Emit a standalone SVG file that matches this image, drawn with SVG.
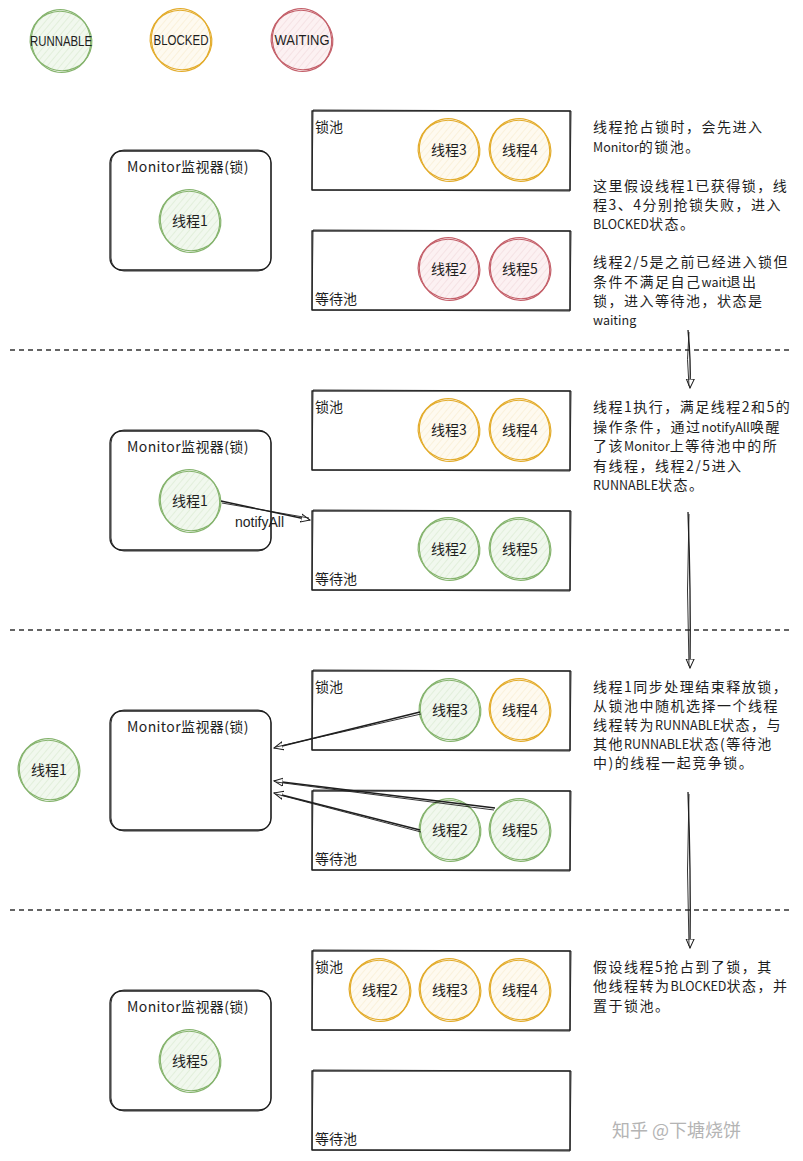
<svg xmlns="http://www.w3.org/2000/svg" width="803" height="1161" viewBox="0 0 803 1161">
<defs>
<pattern id="hG" patternUnits="userSpaceOnUse" width="5" height="5" patternTransform="rotate(40)"><rect width="5" height="5" fill="#f1f8ee"/><line x1="0" y1="0" x2="0" y2="5" stroke="#d3e6c9" stroke-width="1"/></pattern>
<pattern id="hY" patternUnits="userSpaceOnUse" width="5" height="5" patternTransform="rotate(40)"><rect width="5" height="5" fill="#fefaf0"/><line x1="0" y1="0" x2="0" y2="5" stroke="#f6e8c6" stroke-width="1"/></pattern>
<pattern id="hR" patternUnits="userSpaceOnUse" width="5" height="5" patternTransform="rotate(40)"><rect width="5" height="5" fill="#fcf1f2"/><line x1="0" y1="0" x2="0" y2="5" stroke="#efd3d6" stroke-width="1"/></pattern>
<marker id="ah" viewBox="0 0 10 10" refX="9" refY="5" markerWidth="10" markerHeight="10" markerUnits="userSpaceOnUse" orient="auto"><path d="M0,1 L9,5 L0,9 Z" fill="#fff" stroke="#1e1e1e" stroke-width="1"/></marker>
</defs>
<style>
.fg{fill:url(#hG);stroke:none}
.fy{fill:url(#hY);stroke:none}
.fr{fill:url(#hR);stroke:none}
.g{fill:none;stroke:#86b46e;stroke-width:1.2}
.y{fill:none;stroke:#e3ac2c;stroke-width:1.2}
.r{fill:none;stroke:#c4606a;stroke-width:1.2}
.c{font-family:"Noto Sans CJK SC",sans-serif;font-size:14px;text-anchor:middle;fill:#1e1e1e}
.lg{font-family:"Liberation Sans",sans-serif;font-size:15px;text-anchor:middle;fill:#1e1e1e}
.b{fill:#fff;stroke:#1e1e1e;stroke-width:1.3}
.b2{fill:none;stroke:#1e1e1e;stroke-width:0.9}
.lab{font-family:"Noto Sans CJK SC",sans-serif;font-size:14px;fill:#1e1e1e}
.mt{font-family:"Noto Sans CJK SC",sans-serif;font-size:14px;fill:#1e1e1e;letter-spacing:0.4px}
.d{font-family:"Noto Sans CJK SC",sans-serif;font-size:14px;fill:#1e1e1e;letter-spacing:1.5px}
.l{font-size:12.5px;letter-spacing:0}
.dash{stroke:#333;stroke-width:1.5;stroke-dasharray:5 4;fill:none}
.ar{fill:none;stroke:#1e1e1e;stroke-width:1.3}
.ar2{fill:none;stroke:#1e1e1e;stroke-width:0.9}
.na{font-family:"Liberation Sans",sans-serif;font-size:14px;fill:#1e1e1e}
.wm{font-family:"Noto Sans CJK SC",sans-serif;font-size:18px;fill:#b4b4b4}
</style>
<rect width="803" height="1161" fill="#fff"/>

<!-- legend -->
<g id="legend-runnable" transform="translate(61,41)"><circle r="30" class="fg"/><ellipse rx="31" ry="29.5" transform="rotate(20)" class="g"/><ellipse rx="29.5" ry="31.5" transform="rotate(-15)" class="g"/><text class="lg" y="5" textLength="62" lengthAdjust="spacingAndGlyphs">RUNNABLE</text></g>
<g id="legend-blocked" transform="translate(181,40)"><circle r="30" class="fy"/><ellipse rx="31" ry="29.5" transform="rotate(20)" class="y"/><ellipse rx="29.5" ry="31.5" transform="rotate(-15)" class="y"/><text class="lg" y="5" textLength="55" lengthAdjust="spacingAndGlyphs">BLOCKED</text></g>
<g id="legend-waiting" transform="translate(302,40)"><circle r="30" class="fr"/><ellipse rx="31" ry="29.5" transform="rotate(20)" class="r"/><ellipse rx="29.5" ry="31.5" transform="rotate(-15)" class="r"/><text class="lg" y="5" textLength="55" lengthAdjust="spacingAndGlyphs">WAITING</text></g>

<!-- dividers -->
<g id="dividers">
<line x1="10" y1="350" x2="790" y2="350" class="dash"/>
<line x1="10" y1="630" x2="790" y2="630" class="dash"/>
<line x1="10" y1="910" x2="790" y2="910" class="dash"/>
</g>

<!-- ===== section 1 ===== -->
<g id="s1-monitor"><rect x="110" y="151" width="161" height="119" rx="12" class="b"/><rect x="111" y="150" width="160" height="121" rx="13" class="b2"/><text x="127" y="172" class="mt">Monitor监视器(锁)</text></g>
<g id="s1-lockpool"><rect x="312" y="111" width="258" height="79" class="b"/><path d="M313,110 L571,111 L570,191 L312,190 Z" class="b2"/><text x="315" y="132" class="lab">锁池</text></g>
<g id="s1-waitpool"><rect x="312" y="231" width="258" height="79" class="b"/><path d="M313,230 L571,231 L570,311 L312,310 Z" class="b2"/><text x="315" y="304" class="lab">等待池</text></g>
<g id="s1-t1" transform="translate(190,221)"><circle r="30" class="fg"/><ellipse rx="31" ry="29.5" transform="rotate(20)" class="g"/><ellipse rx="29.5" ry="31.5" transform="rotate(-15)" class="g"/><text class="c" y="5">线程1</text></g>
<g id="s1-t3" transform="translate(449,150)"><circle r="30" class="fy"/><ellipse rx="31" ry="29.5" transform="rotate(20)" class="y"/><ellipse rx="29.5" ry="31.5" transform="rotate(-15)" class="y"/><text class="c" y="5">线程3</text></g>
<g id="s1-t4" transform="translate(520,150)"><circle r="30" class="fy"/><ellipse rx="31" ry="29.5" transform="rotate(20)" class="y"/><ellipse rx="29.5" ry="31.5" transform="rotate(-15)" class="y"/><text class="c" y="5">线程4</text></g>
<g id="s1-t2" transform="translate(449,269)"><circle r="30" class="fr"/><ellipse rx="31" ry="29.5" transform="rotate(20)" class="r"/><ellipse rx="29.5" ry="31.5" transform="rotate(-15)" class="r"/><text class="c" y="5">线程2</text></g>
<g id="s1-t5" transform="translate(520,269)"><circle r="30" class="fr"/><ellipse rx="31" ry="29.5" transform="rotate(20)" class="r"/><ellipse rx="29.5" ry="31.5" transform="rotate(-15)" class="r"/><text class="c" y="5">线程5</text></g>
<g id="s1-desc" class="d">
<text x="593" y="132">线程抢占锁时，会先进入</text>
<text x="593" y="152"><tspan class="l">Monitor</tspan>的锁池。</text>
<text x="593" y="191">这里假设线程1已获得锁，线</text>
<text x="593" y="210">程3、4分别抢锁失败，进入</text>
<text x="593" y="229"><tspan class="l">BLOCKED</tspan>状态。</text>
<text x="593" y="267">线程2/5是之前已经进入锁但</text>
<text x="593" y="287">条件不满足自己<tspan class="l">wait</tspan>退出</text>
<text x="593" y="306">锁，进入等待池，状态是</text>
<text x="593" y="325"><tspan class="l">waiting</tspan></text>
</g>

<!-- ===== section 2 ===== -->
<g id="s2-monitor"><rect x="110" y="431" width="161" height="119" rx="12" class="b"/><rect x="111" y="430" width="160" height="121" rx="13" class="b2"/><text x="127" y="452" class="mt">Monitor监视器(锁)</text></g>
<g id="s2-lockpool"><rect x="312" y="391" width="258" height="79" class="b"/><path d="M313,390 L571,391 L570,471 L312,470 Z" class="b2"/><text x="315" y="412" class="lab">锁池</text></g>
<g id="s2-waitpool"><rect x="312" y="511" width="258" height="79" class="b"/><path d="M313,510 L571,511 L570,591 L312,590 Z" class="b2"/><text x="315" y="584" class="lab">等待池</text></g>
<g id="s2-t1" transform="translate(190,501)"><circle r="30" class="fg"/><ellipse rx="31" ry="29.5" transform="rotate(20)" class="g"/><ellipse rx="29.5" ry="31.5" transform="rotate(-15)" class="g"/><text class="c" y="5">线程1</text></g>
<g id="s2-t3" transform="translate(449,430)"><circle r="30" class="fy"/><ellipse rx="31" ry="29.5" transform="rotate(20)" class="y"/><ellipse rx="29.5" ry="31.5" transform="rotate(-15)" class="y"/><text class="c" y="5">线程3</text></g>
<g id="s2-t4" transform="translate(520,430)"><circle r="30" class="fy"/><ellipse rx="31" ry="29.5" transform="rotate(20)" class="y"/><ellipse rx="29.5" ry="31.5" transform="rotate(-15)" class="y"/><text class="c" y="5">线程4</text></g>
<g id="s2-t2" transform="translate(449,549)"><circle r="30" class="fg"/><ellipse rx="31" ry="29.5" transform="rotate(20)" class="g"/><ellipse rx="29.5" ry="31.5" transform="rotate(-15)" class="g"/><text class="c" y="5">线程2</text></g>
<g id="s2-t5" transform="translate(520,549)"><circle r="30" class="fg"/><ellipse rx="31" ry="29.5" transform="rotate(20)" class="g"/><ellipse rx="29.5" ry="31.5" transform="rotate(-15)" class="g"/><text class="c" y="5">线程5</text></g>
<g id="s2-desc" class="d">
<text x="593" y="412">线程1执行，满足线程2和5的</text>
<text x="593" y="432">操作条件，通过<tspan class="l">notifyAll</tspan>唤醒</text>
<text x="593" y="451">了该<tspan class="l">Monitor</tspan>上等待池中的所</text>
<text x="593" y="471">有线程，线程2/5进入</text>
<text x="593" y="490"><tspan class="l">RUNNABLE</tspan>状态。</text>
</g>

<!-- ===== section 3 ===== -->
<g id="s3-monitor"><rect x="110" y="711" width="161" height="119" rx="12" class="b"/><rect x="111" y="710" width="160" height="121" rx="13" class="b2"/><text x="127" y="732" class="mt">Monitor监视器(锁)</text></g>
<g id="s3-lockpool"><rect x="312" y="671" width="258" height="79" class="b"/><path d="M313,670 L571,671 L570,751 L312,750 Z" class="b2"/><text x="315" y="692" class="lab">锁池</text></g>
<g id="s3-waitpool"><rect x="312" y="791" width="258" height="79" class="b"/><path d="M313,790 L571,791 L570,871 L312,870 Z" class="b2"/><text x="315" y="864" class="lab">等待池</text></g>
<g id="s3-t1" transform="translate(49,770)"><circle r="30" class="fg"/><ellipse rx="31" ry="29.5" transform="rotate(20)" class="g"/><ellipse rx="29.5" ry="31.5" transform="rotate(-15)" class="g"/><text class="c" y="5">线程1</text></g>
<g id="s3-t3" transform="translate(450,710)"><circle r="30" class="fg"/><ellipse rx="31" ry="29.5" transform="rotate(20)" class="g"/><ellipse rx="29.5" ry="31.5" transform="rotate(-15)" class="g"/><text class="c" y="5">线程3</text></g>
<g id="s3-t4" transform="translate(520,710)"><circle r="30" class="fy"/><ellipse rx="31" ry="29.5" transform="rotate(20)" class="y"/><ellipse rx="29.5" ry="31.5" transform="rotate(-15)" class="y"/><text class="c" y="5">线程4</text></g>
<g id="s3-t2" transform="translate(450,830)"><circle r="30" class="fg"/><ellipse rx="31" ry="29.5" transform="rotate(20)" class="g"/><ellipse rx="29.5" ry="31.5" transform="rotate(-15)" class="g"/><text class="c" y="5">线程2</text></g>
<g id="s3-t5" transform="translate(520,830)"><circle r="30" class="fg"/><ellipse rx="31" ry="29.5" transform="rotate(20)" class="g"/><ellipse rx="29.5" ry="31.5" transform="rotate(-15)" class="g"/><text class="c" y="5">线程5</text></g>
<g id="s3-desc" class="d">
<text x="593" y="692">线程1同步处理结束释放锁，</text>
<text x="593" y="711">从锁池中随机选择一个线程</text>
<text x="593" y="730">线程转为<tspan class="l">RUNNABLE</tspan>状态，与</text>
<text x="593" y="749">其他<tspan class="l">RUNNABLE</tspan>状态(等待池</text>
<text x="593" y="768">中)的线程一起竞争锁。</text>
</g>

<!-- ===== section 4 ===== -->
<g id="s4-monitor"><rect x="110" y="991" width="161" height="119" rx="12" class="b"/><rect x="111" y="990" width="160" height="121" rx="13" class="b2"/><text x="127" y="1012" class="mt">Monitor监视器(锁)</text></g>
<g id="s4-lockpool"><rect x="312" y="951" width="258" height="79" class="b"/><path d="M313,950 L571,951 L570,1031 L312,1030 Z" class="b2"/><text x="315" y="972" class="lab">锁池</text></g>
<g id="s4-waitpool"><rect x="312" y="1071" width="258" height="79" class="b"/><path d="M313,1070 L571,1071 L570,1151 L312,1150 Z" class="b2"/><text x="315" y="1144" class="lab">等待池</text></g>
<g id="s4-t5" transform="translate(190,1061)"><circle r="30" class="fg"/><ellipse rx="31" ry="29.5" transform="rotate(20)" class="g"/><ellipse rx="29.5" ry="31.5" transform="rotate(-15)" class="g"/><text class="c" y="5">线程5</text></g>
<g id="s4-t2" transform="translate(380,990)"><circle r="30" class="fy"/><ellipse rx="31" ry="29.5" transform="rotate(20)" class="y"/><ellipse rx="29.5" ry="31.5" transform="rotate(-15)" class="y"/><text class="c" y="5">线程2</text></g>
<g id="s4-t3" transform="translate(450,990)"><circle r="30" class="fy"/><ellipse rx="31" ry="29.5" transform="rotate(20)" class="y"/><ellipse rx="29.5" ry="31.5" transform="rotate(-15)" class="y"/><text class="c" y="5">线程3</text></g>
<g id="s4-t4" transform="translate(520,990)"><circle r="30" class="fy"/><ellipse rx="31" ry="29.5" transform="rotate(20)" class="y"/><ellipse rx="29.5" ry="31.5" transform="rotate(-15)" class="y"/><text class="c" y="5">线程4</text></g>
<g id="s4-desc" class="d">
<text x="593" y="972">假设线程5抢占到了锁，其</text>
<text x="593" y="991">他线程转为<tspan class="l">BLOCKED</tspan>状态，并</text>
<text x="593" y="1011">置于锁池。</text>
</g>

<!-- connectors -->
<g id="connectors">
<path d="M221,501 L310,520" class="ar" marker-end="url(#ah)"/>
<path d="M222,503 L309,518" class="ar2"/>
<text x="235" y="527" class="na">notifyAll</text>
<path d="M420,712 L274,748" class="ar" marker-end="url(#ah)"/>
<path d="M421,714 L276,747" class="ar2"/>
<path d="M495,808 L274,781" class="ar" marker-end="url(#ah)"/>
<path d="M494,810 L276,782" class="ar2"/>
<path d="M420,830 L274,793" class="ar" marker-end="url(#ah)"/>
<path d="M421,832 L276,794" class="ar2"/>
<path d="M688,330 Q691,360 690,388" class="ar" marker-end="url(#ah)"/>
<path d="M689,332 Q686,360 689,386" class="ar2"/>
<path d="M688,512 Q691,590 690,668" class="ar" marker-end="url(#ah)"/>
<path d="M689,514 Q686,590 689,666" class="ar2"/>
<path d="M688,792 Q691,870 690,948" class="ar" marker-end="url(#ah)"/>
<path d="M689,794 Q686,870 689,946" class="ar2"/>
</g>

<text x="612" y="1137" class="wm">知乎 @下塘烧饼</text>
</svg>
